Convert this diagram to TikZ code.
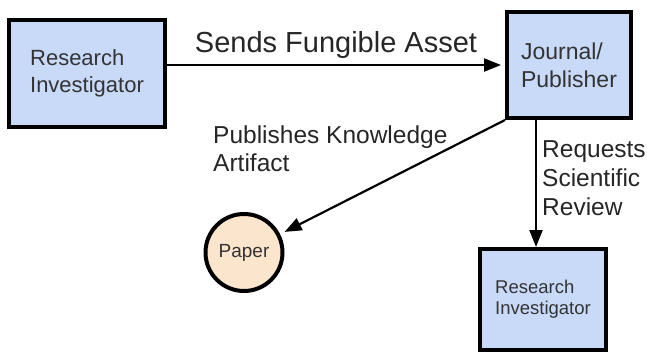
\documentclass[tikz,border=0pt]{standalone}
\usepackage{fontspec}
\setmainfont{Liberation Sans}
\usetikzlibrary{arrows.meta}
\definecolor{boxblue}{HTML}{C9DAF8}
\definecolor{paperorange}{HTML}{FCE5CD}
\definecolor{boxtext}{HTML}{333333}
\begin{document}
\begin{tikzpicture}[x=1pt,y=-1pt,>={Triangle[length=17pt,width=13pt]}]
	\tikzstyle{actor} = [rectangle,fill=boxblue,draw=black,line width=4pt,inner sep=0pt,text=boxtext,align=left];
	\tikzstyle{artifact} = [circle,fill=paperorange,draw=black,line width=4pt,inner sep=0pt,text=boxtext,minimum size=77pt];
	\tikzstyle{flow} = [->,line width=2.2pt];
	\tikzstyle{lbl} = [text=black!85,align=left,inner sep=0pt];
	\useasboundingbox (0,0) rectangle (647,356);
	\node[actor,minimum width=156pt,minimum height=107pt,font=\fontsize{22}{27}\selectfont] (ri) at (87,73.5) {Research\\Investigator};
	\node[actor,minimum width=124pt,minimum height=106pt,font=\fontsize{23}{28}\selectfont] (jp) at (569,65) {Journal/\\Publisher};
	\node[actor,minimum width=126pt,minimum height=101pt,font=\fontsize{18.5}{21}\selectfont] (rev) at (543,299.5) {Research\\Investigator};
	\node[artifact,font=\fontsize{19}{21}\selectfont] (paper) at (244,252.5) {Paper};
	\draw[flow,shorten >=4pt] (ri.east |- jp.west) -- (jp.west) node[midway,above=5pt,lbl,font=\fontsize{29}{32}\selectfont] (send) {Sends Fungible Asset};
	\draw[flow,shorten >=5pt] (jp.south west) -- (paper);
	\draw[flow] ([xshift=-33pt]jp.south) -- ([xshift=-33pt]jp.south |- rev.north);
	\node[lbl,anchor=west,font=\fontsize{24.5}{28}\selectfont] (pub) at (213,149) {Publishes Knowledge\\Artifact};
	\node[lbl,anchor=west,font=\fontsize{24.5}{29}\selectfont] (req) at (542,178.5) {Requests\\Scientific\\Review};
\end{tikzpicture}
\end{document}
